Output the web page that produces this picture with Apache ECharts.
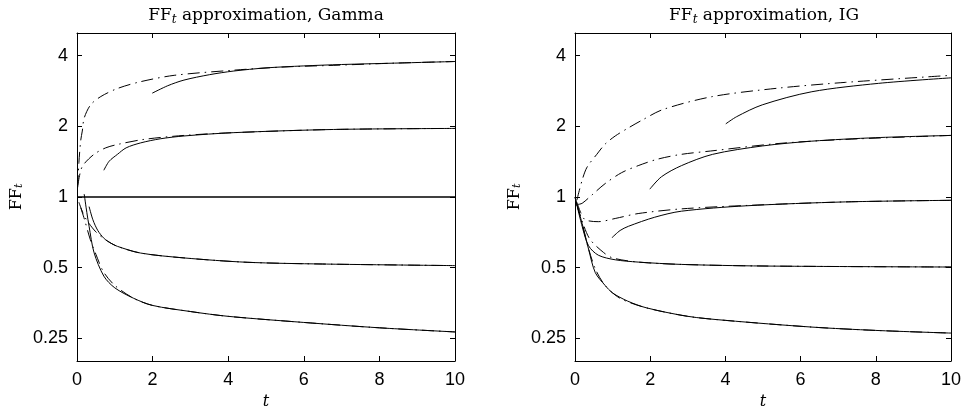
<!DOCTYPE html>
<html lang="en">
<head>
<meta charset="UTF-8">
<title>FF_t approximation</title>
<script src="https://cdn.jsdelivr.net/npm/echarts@6/dist/echarts.min.js"></script>
</head>
<body style="margin:0;background:#fff">
<div id="main" style="width:964px;height:415px;"></div>
<script>
// left panel: Gamma  (each curve is [t, FF_t])
var gOne = [[0, 1], [10, 1]];
var gUpperDash = [[0.02, 1.1], [0.05, 1.4], [0.1, 1.75], [0.14, 1.91], [0.19, 2.17], [0.36, 2.47], [0.63, 2.68], [1.07, 2.9], [1.68, 3.1], [2.57, 3.3], [4.13, 3.47], [5.45, 3.58], [6.78, 3.64], [8.4, 3.72], [10, 3.78]];
var gUpperSolid = [[1.99, 2.77], [2.4, 2.98], [2.83, 3.15], [3.5, 3.32], [4.13, 3.44], [5, 3.55], [6, 3.62], [7, 3.67], [8.4, 3.72], [10, 3.78]];
var gMidDash = [[0.02, 1.12], [0.1, 1.3], [0.18, 1.38], [0.45, 1.52], [0.76, 1.62], [1.11, 1.68], [1.77, 1.76], [2.83, 1.83], [4.13, 1.88], [6.78, 1.94], [10, 1.96]];
var gMidSolid = [[0.71, 1.3], [0.85, 1.42], [1.07, 1.52], [1.3, 1.62], [1.68, 1.7], [2.2, 1.77], [2.83, 1.82], [4.13, 1.88], [6.78, 1.94], [10, 1.96]];
var gLowDash = [[0.05, 0.95], [0.15, 0.86], [0.25, 0.8], [0.5, 0.71], [0.8, 0.65], [1.07, 0.616], [1.68, 0.577], [2.83, 0.55], [4.5, 0.527], [6.5, 0.518], [10, 0.51]];
var gLowSolid = [[0.32, 0.91], [0.42, 0.8], [0.55, 0.72], [0.72, 0.665], [0.9, 0.635], [1.07, 0.616], [1.68, 0.577], [2.83, 0.55], [4.5, 0.527], [6.5, 0.518], [10, 0.51]];
var gBottomDash = [[0.1, 0.9], [0.2, 0.8], [0.35, 0.66], [0.5, 0.57], [0.7, 0.48], [1, 0.42], [1.5, 0.37], [2, 0.345], [3, 0.325], [4, 0.31], [6, 0.292], [8, 0.277], [10, 0.266]];
var gBottomSolid = [[0.19, 1.03], [0.26, 0.86], [0.32, 0.75], [0.45, 0.58], [0.71, 0.46], [1, 0.41], [1.5, 0.37], [2, 0.345], [3, 0.325], [4, 0.31], [6, 0.292], [8, 0.277], [10, 0.266]];

// right panel: IG
var iTopDash = [[0.05, 0.97], [0.19, 1.18], [0.32, 1.34], [0.58, 1.52], [0.8, 1.68], [1.07, 1.82], [1.42, 1.97], [1.77, 2.12], [2.34, 2.36], [3.66, 2.68], [5.4, 2.91], [7.19, 3.08], [10, 3.3]];
var iTopSolid = [[4.01, 2.05], [4.3, 2.2], [4.98, 2.47], [6.3, 2.81], [8.07, 3.05], [10, 3.22]];
var iMidDash = [[0.08, 0.93], [0.19, 0.94], [0.45, 1.02], [0.8, 1.14], [1.24, 1.27], [1.68, 1.36], [2.2, 1.45], [2.83, 1.52], [3.6, 1.57], [5.4, 1.69], [7.19, 1.76], [10, 1.83]];
var iMidSolid = [[1.99, 1.08], [2.3, 1.22], [2.83, 1.36], [3.66, 1.52], [4.98, 1.65], [6.3, 1.73], [8, 1.79], [10, 1.83]];
var iThirdDash = [[0.05, 0.95], [0.15, 0.86], [0.27, 0.8], [0.62, 0.785], [1.07, 0.81], [1.68, 0.85], [2.83, 0.89], [4.54, 0.92], [7.19, 0.953], [10, 0.968]];
var iThirdSolid = [[0.98, 0.67], [1.2, 0.72], [1.42, 0.75], [2.12, 0.82], [2.83, 0.87], [4.54, 0.917], [7.19, 0.953], [10, 0.968]];
var iFourthDash = [[0.05, 0.93], [0.2, 0.78], [0.4, 0.66], [0.76, 0.58], [1, 0.55], [1.68, 0.528], [2.83, 0.516], [5, 0.508], [10, 0.503]];
var iFourthSolid = [[0, 1], [0.19, 0.75], [0.36, 0.62], [0.62, 0.565], [1.07, 0.54], [1.68, 0.528], [2.83, 0.516], [5, 0.508], [10, 0.503]];
var iBottomDash = [[0.05, 0.93], [0.2, 0.76], [0.35, 0.61], [0.55, 0.49], [0.8, 0.42], [1.2, 0.37], [1.9, 0.337], [3, 0.31], [4, 0.298], [6.3, 0.279], [8, 0.27], [10, 0.263]];
var iBottomSolid = [[0, 1], [0.19, 0.77], [0.36, 0.6], [0.54, 0.476], [0.8, 0.42], [1, 0.39], [1.4, 0.36], [1.9, 0.337], [3, 0.31], [4, 0.298], [6.3, 0.279], [8, 0.27], [10, 0.263]];

var titles = ['approximation, Gamma', 'approximation, IG'];
var xTicks = [0, 2, 4, 6, 8, 10];

var sans = 'Liberation Sans';
var serif = 'DejaVu Serif';
var dashDot = [12, 5, 1.5, 5];

var myChart = echarts.init(document.getElementById('main'));

var grids = [
    { left: 77, top: 33, width: 378, height: 333 },
    { left: 575, top: 33, width: 378, height: 333 }
];

function xAx(g, top) {
    return {
        type: 'value', gridIndex: g, min: 0, max: 10, interval: 2,
        position: top ? 'top' : 'bottom',
        name: top ? '' : '{i|t}', nameLocation: 'middle', nameGap: 33,
        nameTextStyle: { rich: { i: { fontFamily: serif, fontStyle: 'italic', fontSize: 16, color: '#000' } } },
        axisLine: { show: true, onZero: false, lineStyle: { color: '#000', width: 1 } },
        axisTick: { show: true, inside: true, length: 5, lineStyle: { color: '#000' } },
        axisLabel: { show: !top, color: '#000', fontFamily: sans, fontSize: 18, margin: 10,
            formatter: function (v) { return xTicks.indexOf(v) >= 0 ? String(v) : ''; } },
        splitLine: { show: false }
    };
}

function yAx(g, right) {
    return {
        type: 'log', logBase: 2, gridIndex: g, min: 0.2, max: 5,
        position: right ? 'right' : 'left',
        name: right ? '' : '{a|FF}{s|t}', nameLocation: 'middle', nameGap: 52,
        nameTextStyle: { rich: {
            a: { fontFamily: serif, fontSize: 16, color: '#000' },
            s: { fontFamily: serif, fontSize: 11, fontStyle: 'italic', color: '#000', verticalAlign: 'bottom', padding: [6, 0, 0, 0] }
        } },
        axisLine: { show: true, onZero: false, lineStyle: { color: '#000', width: 1 } },
        axisTick: { show: true, inside: true, length: 5, lineStyle: { color: '#000' } },
        axisLabel: { show: !right, color: '#000', fontFamily: sans, fontSize: 18, margin: 9,
            showMinLabel: false, showMaxLabel: false,
            formatter: function (v) { return String(+(+v).toPrecision(3)); } },
        splitLine: { show: false }
    };
}

function line(data, g, dashed, width) {
    return {
        type: 'line', xAxisIndex: g * 2, yAxisIndex: g * 2, data: data,
        showSymbol: false, smooth: 0.3, silent: true, animation: false,
        lineStyle: { color: '#000', width: width || 1, type: dashed ? dashDot : 'solid' }
    };
}

var series = [
    line(gOne, 0, false, 1.4),
    line(gUpperDash, 0, true), line(gUpperSolid, 0, false),
    line(gMidDash, 0, true), line(gMidSolid, 0, false),
    line(gLowDash, 0, true), line(gLowSolid, 0, false),
    line(gBottomDash, 0, true), line(gBottomSolid, 0, false),
    line(iTopDash, 1, true), line(iTopSolid, 1, false),
    line(iMidDash, 1, true), line(iMidSolid, 1, false),
    line(iThirdDash, 1, true), line(iThirdSolid, 1, false),
    line(iFourthDash, 1, true), line(iFourthSolid, 1, false),
    line(iBottomDash, 1, true), line(iBottomSolid, 1, false)
];

var titleRich = {
    a: { fontFamily: serif, fontSize: 17, fill: '#000' },
    s: { fontFamily: serif, fontSize: 12, fontStyle: 'italic', fill: '#000', verticalAlign: 'bottom', padding: [7, 0, 0, 0] }
};

myChart.setOption({
    backgroundColor: '#fff',
    animation: false,
    grid: grids,
    xAxis: [xAx(0, false), xAx(0, true), xAx(1, false), xAx(1, true)],
    yAxis: [yAx(0, false), yAx(0, true), yAx(1, false), yAx(1, true)],
    graphic: titles.map(function (t, i) {
        return {
            type: 'text', x: grids[i].left + grids[i].width / 2, y: 16,
            style: { text: '{a|FF}{s|t}{a| ' + t + '}', rich: titleRich, align: 'center', verticalAlign: 'middle' }
        };
    }),
    series: series
});
</script>
</body>
</html>
